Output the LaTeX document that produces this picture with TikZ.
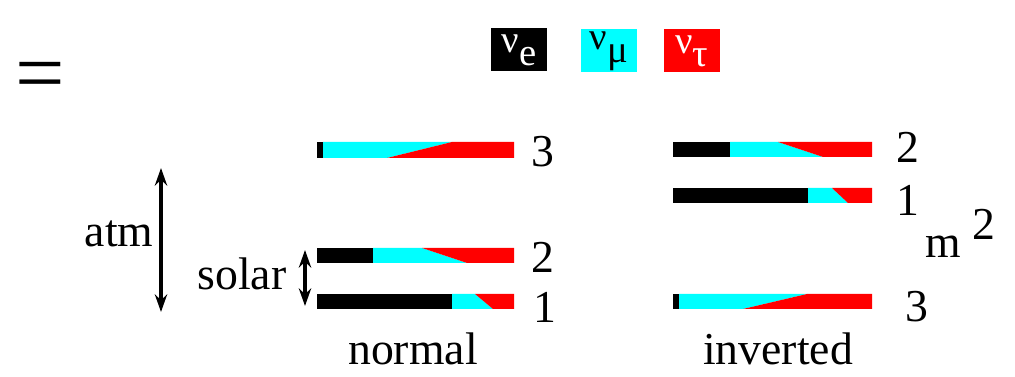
\documentclass[tikz,border=0pt]{standalone}
\usepackage{fontspec}
\setmainfont{LiberationSerif}[Extension=.ttf,UprightFont=*-Regular,BoldFont=*-Bold]
\usetikzlibrary{arrows.meta,positioning}
\definecolor{nue}{HTML}{000000}
\definecolor{numu}{HTML}{00FFFF}
\definecolor{nutau}{HTML}{FF0000}

\begin{document}
\begin{tikzpicture}[x=0.02cm,y=-0.02cm,
  lbl/.style={font=\rmfamily\fontsize{26}{30}\selectfont,inner sep=0pt},
  flav/.style={minimum width=1.12cm,minimum height=0.86cm,inner sep=0pt,font=\rmfamily\fontsize{22}{24}\selectfont},
  gap/.style={line width=1.9pt,{Stealth[length=10pt,width=7pt]}-{Stealth[length=10pt,width=7pt]}}]
  \useasboundingbox (0,0) rectangle (1015,377);

  % Equals sign
  \node[inner sep=0pt,font=\rmfamily\fontsize{50}{50}\selectfont] (eq) at (40,82) {=};

  % Flavour legend
  \node[flav,fill=nue,text=white] (kne) at (519,50) {ν\raisebox{-0.33em}{e}};
  \node[flav,fill=numu] (knm) at (609,51) {ν\raisebox{-0.33em}{μ}};
  \node[flav,fill=nutau,text=white] (knt) at (692,51) {ν\raisebox{-0.33em}{τ}};

  % Normal, level 3
  \fill[nue] (317,142) rectangle (323,158);
  \fill[numu] (323,142) -- (452,142) -- (387,158) -- (323,158) -- cycle;
  \fill[nutau] (452,142) -- (514,142) -- (514,158) -- (387,158) -- cycle;
  \node[lbl] (n3) at (543,152) {3};

  % Normal, level 2
  \fill[nue] (317,248) rectangle (373,263);
  \fill[numu] (373,248) -- (422,248) -- (467,263) -- (373,263) -- cycle;
  \fill[nutau] (422,248) -- (514,248) -- (514,263) -- (467,263) -- cycle;
  \node[lbl] (n2) at (543,257) {2};

  % Normal, level 1
  \fill[nue] (317,294) rectangle (452,309);
  \fill[numu] (452,294) -- (475,294) -- (493,309) -- (452,309) -- cycle;
  \fill[nutau] (475,294) -- (514,294) -- (514,309) -- (493,309) -- cycle;
  \node[lbl] (n1) at (545,307) {1};

  % Inverted, level 2
  \fill[nue] (673,142) rectangle (730,157);
  \fill[numu] (730,142) -- (778,142) -- (823,157) -- (730,157) -- cycle;
  \fill[nutau] (778,142) -- (872,142) -- (872,157) -- (823,157) -- cycle;
  \node[lbl] (i2) at (908,147) {2};

  % Inverted, level 1
  \fill[nue] (673,188) rectangle (808,203);
  \fill[numu] (808,188) -- (832,188) -- (848,203) -- (808,203) -- cycle;
  \fill[nutau] (832,188) -- (872,188) -- (872,203) -- (848,203) -- cycle;
  \node[lbl] (i1) at (908,200) {1};

  % Inverted, level 3
  \fill[nue] (673,294) rectangle (679,309);
  \fill[numu] (679,294) -- (807,294) -- (743,309) -- (679,309) -- cycle;
  \fill[nutau] (807,294) -- (872,294) -- (872,309) -- (743,309) -- cycle;
  \node[lbl] (i3) at (917,307) {3};

  % Axis label
  \node[lbl,anchor=base west] (msq) at (925,258) {m\hspace{0.25em}\raisebox{0.4em}{2}};

  % Splittings
  \coordinate (atmtop) at (161,168);
  \coordinate (atmbot) at (161,312);
  \draw[gap] (atmtop) -- (atmbot);
  \node[lbl,anchor=base] (atm) at (119,247) {atm};
  \coordinate (soltop) at (305,250);
  \coordinate (solbot) at (305,306);
  \draw[gap] (soltop) -- (solbot);
  \node[lbl,anchor=base] (sol) at (242,290) {solar};

  % Orderings
  \node[lbl,anchor=base] (norm) at (413,365) {normal};
  \node[lbl,anchor=base] (inv) at (778,365) {inverted};
\end{tikzpicture}
\end{document}
